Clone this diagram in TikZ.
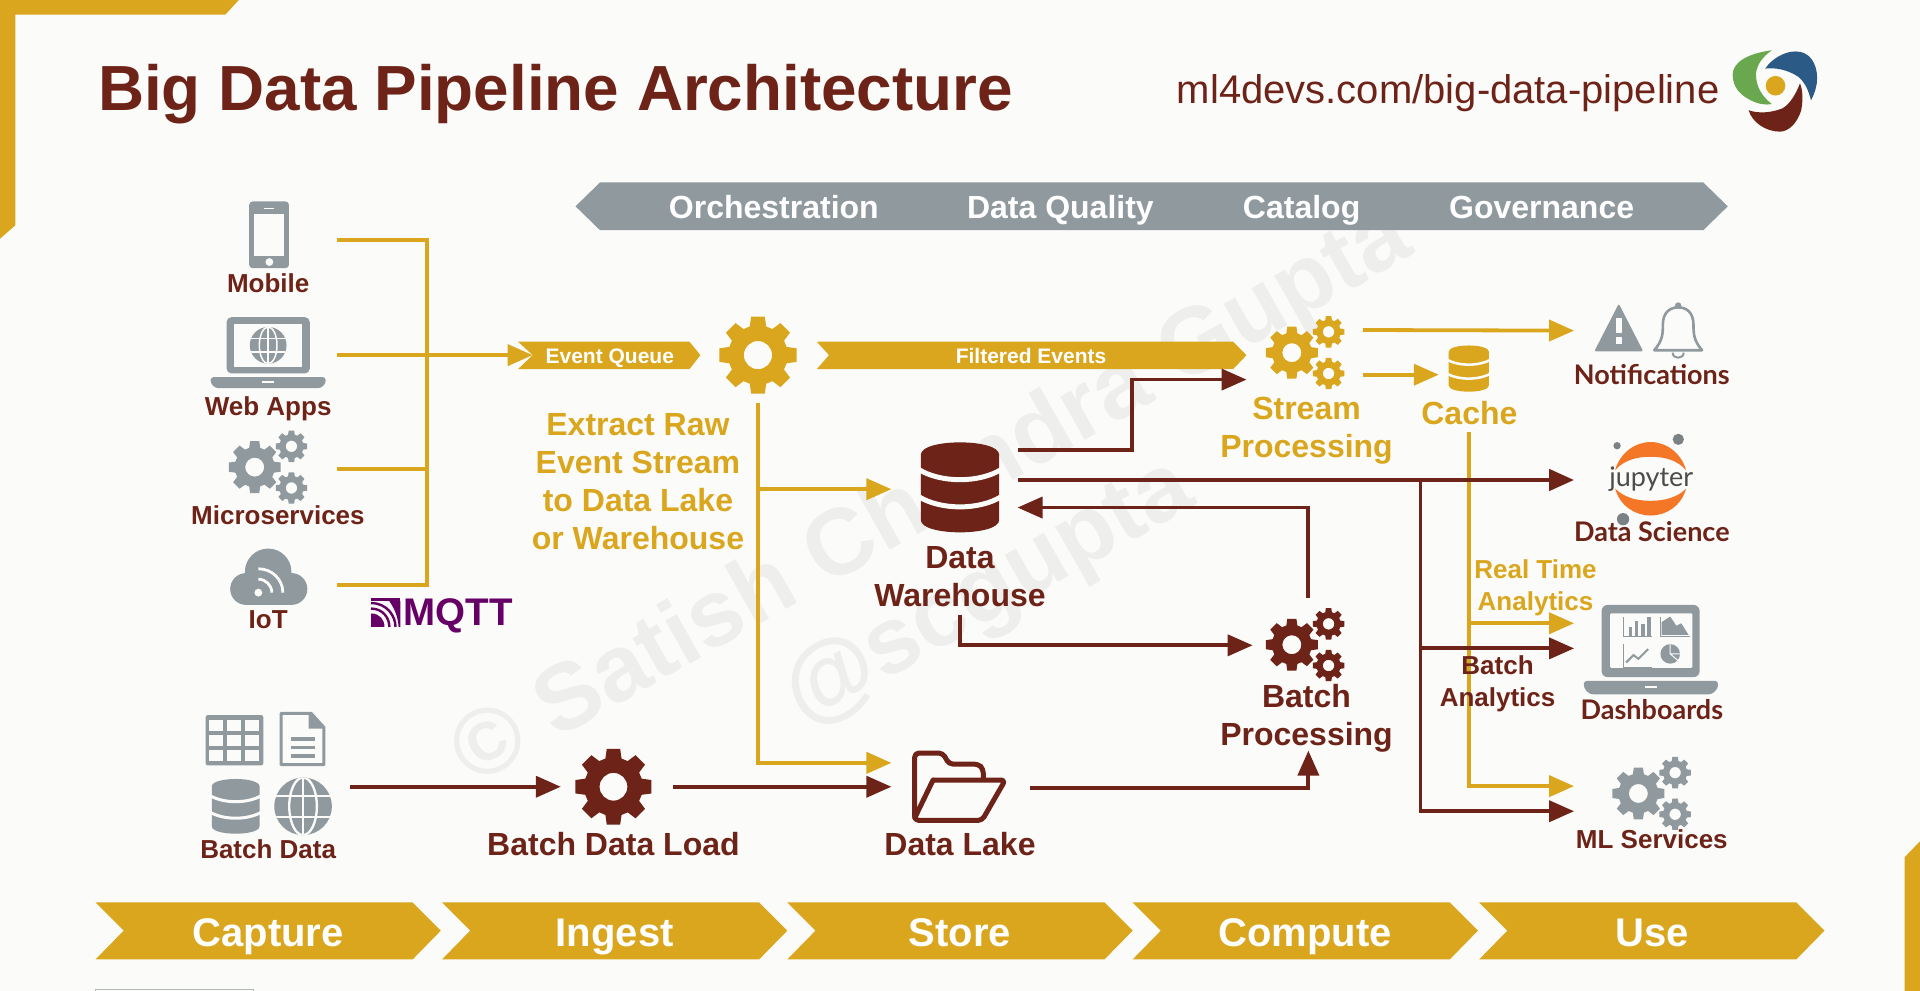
\documentclass[tikz,border=0pt]{standalone}
\usepackage{fontspec}
\setmainfont{Liberation Sans}
\newfontfamily\latof{Lato}
\usetikzlibrary{arrows.meta}
\definecolor{goldc}{HTML}{D9A61E}
\definecolor{maroonc}{HTML}{6E2318}
\definecolor{slatec}{HTML}{8F999E}
\definecolor{paperc}{HTML}{FBFBF9}
\definecolor{markc}{HTML}{EEEEEC}
\definecolor{mqttc}{HTML}{660066}
\definecolor{jupc}{HTML}{F37726}
\definecolor{lg}{HTML}{6AA84F}
\definecolor{lb}{HTML}{2A5A85}
\newcommand\gearicon[4]{%
 \fill[#4,even odd rule] ({#1+#3*.76*cos(-16)},{#2+#3*.76*sin(-16)})
  foreach \a in {0,45,...,315} {
   -- ({#1+#3*.76*cos(\a-16)},{#2+#3*.76*sin(\a-16)})
   -- ({#1+#3*cos(\a-10)},{#2+#3*sin(\a-10)})
   -- ({#1+#3*cos(\a+10)},{#2+#3*sin(\a+10)})
   -- ({#1+#3*.76*cos(\a+16)},{#2+#3*.76*sin(\a+16)})
  } -- cycle ({#1},{#2}) circle[radius={#3*.36}];}
\newcommand\geartrio[3]{%
 \gearicon{#1}{#2}{21.5}{#3}
 \gearicon{#1+30}{#2-17}{13}{#3}
 \gearicon{#1+30}{#2+17}{13}{#3}}
\newcommand\cylicon[5]{% cx top bottom rx colour
 \pgfmathsetmacro\cyh{#3-#2}
 \pgfmathsetmacro\cyr{\cyh*.14}
 \fill[#5] ({#1-#4},{#2+\cyr}) .. controls ({#1-#4},{#2-\cyr*.3}) and ({#1+#4},{#2-\cyr*.3}) .. ({#1+#4},{#2+\cyr})
   -- ({#1+#4},{#3-\cyr}) .. controls ({#1+#4},{#3+\cyr*.3}) and ({#1-#4},{#3+\cyr*.3}) .. ({#1-#4},{#3-\cyr}) -- cycle;
 \foreach \f in {.30,.60}{
  \draw[paperc,line width={\cyh*.055*1.22pt}] ({#1-#4-2},{#2+\cyh*\f}) .. controls ({#1-#4*.5},{#2+\cyh*\f+\cyr*1.1}) and ({#1+#4*.5},{#2+\cyh*\f+\cyr*1.1}) .. ({#1+#4+2},{#2+\cyh*\f});}}
\newcommand\globeicon[4]{% cx cy r colour
 \fill[#4] (#1,#2) circle[radius=#3];
 \begin{scope}
 \clip (#1,#2) circle[radius=#3];
 \draw[paperc,line width={#3*.1pt}] (#1,#2) ellipse[x radius={#3*.48},y radius=#3];
 \draw[paperc,line width={#3*.1pt}] (#1,{#2-#3}) -- (#1,{#2+#3});
 \draw[paperc,line width={#3*.1pt}] ({#1-#3},{#2-#3*.36}) -- ({#1+#3},{#2-#3*.36});
 \draw[paperc,line width={#3*.1pt}] ({#1-#3},{#2+#3*.36}) -- ({#1+#3},{#2+#3*.36});
 \end{scope}}
\tikzset{
 x=1.2245pt,y=-1.2245pt,
 goldline/.style={goldc,line width=3.8pt},
 maroonline/.style={maroonc,line width=3.8pt},
 goldarrow/.style={goldline,-{Triangle[length=25pt,width=21pt]}},
 maroonarrow/.style={maroonline,-{Triangle[length=25pt,width=21pt]}},
 lbl/.style={anchor=base,inner sep=0pt,outer sep=0pt,align=center,text=maroonc,font=\bfseries\fontsize{26}{26}\selectfont},
 biglbl/.style={lbl,font=\bfseries\fontsize{32}{38}\selectfont},
 goldlbl/.style={biglbl,text=goldc},
 softlbl/.style={lbl,font=\latof\bfseries\fontsize{27}{27}\selectfont},
 whitelbl/.style={anchor=base,inner sep=0pt,text=white,font=\bfseries\fontsize{32}{32}\selectfont},
 chevlbl/.style={whitelbl,font=\bfseries\fontsize{40}{40}\selectfont},
 ribbonlbl/.style={whitelbl,font=\bfseries\fontsize{21}{21}\selectfont},
 watermark/.style={text=markc,inner sep=0pt,font=\bfseries\fontsize{94}{94}\selectfont},
}
\begin{document}
\begin{tikzpicture}
\useasboundingbox (0,0) rectangle (1568,809.3);
\fill[paperc] (0,0) rectangle (1568,809.3);
% watermark
\node[watermark,rotate=29.5] (wm1) at (762,407) {© Satish Chandra Gupta};
\node[watermark,rotate=29.5] (wm2) at (808,486) {@scgupta};
% corners
\fill[goldc] (0,0) -- (195,0) -- (184,12) -- (12.5,12) -- (12.5,184) -- (0,195) -- cycle;
\fill[goldc] (1568,687) -- (1555.5,700) -- (1555.5,809.3) -- (1568,809.3) -- cycle;
\draw[slatec!70,line width=.8pt] (78,809.3) -- (78,807.6) -- (207,807.6) -- (207,809.3);
% title
\node[anchor=base west,inner sep=0pt,text=maroonc,font=\bfseries\fontsize{63.8}{64}\selectfont] (title) at (80,90) {Big Data Pipeline Architecture};
\node[anchor=base west,inner sep=0pt,text=maroonc,font=\fontsize{40}{40}\selectfont] (url) at (961,84.5) {ml4devs.com/big-data-pipeline};
% logo
\fill[lg] (1447,41) .. controls (1425,44) and (1415,52) .. (1415,61) .. controls (1415,72) and (1422,78) .. (1430,82) .. controls (1436,85) and (1442,86) .. (1447,85) .. controls (1438,78) and (1434,70) .. (1434,60) .. controls (1435,52) and (1440,46) .. (1447,41) -- cycle;
\fill[lb] (1441.6,56) .. controls (1447,48) and (1457,42) .. (1466.6,42) .. controls (1478,42) and (1484,52) .. (1484,64) .. controls (1484,70) and (1482,76) .. (1479,82) .. controls (1477,74) and (1474,67) .. (1468.5,62.6) .. controls (1460,57) and (1450,55) .. (1441.6,56) -- cycle;
\fill[maroonc] (1470,68) .. controls (1473,76) and (1472,84) .. (1471,90) .. controls (1468,100) and (1461,107.5) .. (1453.6,107.5) .. controls (1442,107.5) and (1431,100) .. (1428,90) .. controls (1436,93) and (1447,92) .. (1455.6,88.5) .. controls (1462,85) and (1467,76) .. (1470,68) -- cycle;
\fill[goldc] (1450,70) circle[radius=8];
% top banner
\fill[slatec] (470,168.5) -- (490,149) -- (1391,149) -- (1411,168.5) -- (1391,188) -- (490,188) -- cycle;
\node[whitelbl] (orch) at (632,178.6) {Orchestration};
\node[whitelbl] (dq) at (866,178.6) {Data Quality};
\node[whitelbl] (cat) at (1063,178.6) {Catalog};
\node[whitelbl] (gov) at (1259,178.6) {Governance};
% chevrons
\foreach \nm/\tx/\sx/\lx in {c1/Capture/78/219,c2/Ingest/361/502,c3/Store/643/784,c4/Compute/925/1066,c5/Use/1208/1349}{
 \fill[goldc] (\sx,737) -- ({\sx+259},737) -- ({\sx+282},760) -- ({\sx+259},783.5) -- (\sx,783.5) -- ({\sx+23},760) -- cycle;
 \node[chevlbl] (\nm) at (\lx,772.7) {\tx};
}
% ribbons
\fill[goldc] (423,279) -- (563,279) -- (572,290) -- (563,301.5) -- (423,301.5) -- (435,290) -- cycle;
\node[ribbonlbl] (eq) at (498,296.6) {Event Queue};
\fill[goldc] (667,279) -- (1007,279) -- (1018,290) -- (1007,301.5) -- (667,301.5) -- (677,290) -- cycle;
\node[ribbonlbl] (fe) at (842,296.6) {Filtered Events};
% anchors
\coordinate (mobO) at (275,196);
\coordinate (webO) at (275,290);
\coordinate (micO) at (275,383);
\coordinate (iotO) at (275,478);
\coordinate (bus) at (349,290);
\coordinate (eqIn) at (435,290);
\coordinate (gearOut) at (619,329);
\coordinate (dwInG) at (728,399.5);
\coordinate (dlInG) at (728,623);
\coordinate (dwOutA) at (831,367.5);
\coordinate (spIn) at (1018,310);
\coordinate (riser) at (924.5,340);
\coordinate (dwOutB) at (831,392);
\coordinate (jupIn) at (1285.5,392);
\coordinate (dwInB) at (831,414.5);
\coordinate (bpOutUp) at (1068,488);
\coordinate (dwOutC) at (784,502);
\coordinate (bpIn) at (1023,527);
\coordinate (bdOut) at (286,642.5);
\coordinate (bdlIn) at (458,642.5);
\coordinate (bdlOut) at (549.5,642.5);
\coordinate (dlInB) at (728,642.5);
\coordinate (dlOut) at (841,643.5);
\coordinate (bpInB) at (1068.5,613);
\coordinate (spOutA) at (1113,269.5);
\coordinate (notIn) at (1285.5,270);
\coordinate (spOutB) at (1113,306);
\coordinate (caIn) at (1175,306);
\coordinate (caOut) at (1199.5,353);
\coordinate (dbIn1) at (1285.5,509);
\coordinate (mlIn1) at (1285.5,642);
\coordinate (vtB) at (1160,392);
\coordinate (dbIn2) at (1285.5,529.5);
\coordinate (mlIn2) at (1285.5,662.5);
% gold connectors
\draw[goldline] (mobO) -| (bus |- iotO) -- (iotO);
\draw[goldline] (micO) -- (bus |- micO);
\draw[goldarrow] (webO) -- (eqIn);
\draw[goldarrow] (gearOut |- dwInG) -- (dwInG);
\draw[goldarrow] (gearOut) |- (dlInG);
\draw[goldarrow] (spOutA) -- (notIn);
\draw[goldarrow] (spOutB) -- (caIn);
\draw[goldarrow] (caOut) |- (mlIn1);
\draw[goldarrow] (caOut |- dbIn1) -- (dbIn1);
% maroon connectors
\draw[maroonarrow] (dwOutA) -| (riser) |- (spIn);
\draw[maroonarrow,line width=4.6pt] (dwOutB) -- (jupIn);
\draw[maroonarrow] (vtB) |- (mlIn2);
\draw[maroonarrow] (vtB |- dbIn2) -- (dbIn2);
\draw[maroonarrow] (bpOutUp) |- (dwInB);
\draw[maroonarrow] (dwOutC) |- (bpIn);
\draw[maroonarrow] (bdOut) -- (bdlIn);
\draw[maroonarrow] (bdlOut) -- (dlInB);
\draw[maroonarrow] (dlOut) -| (bpInB);
% gears
\gearicon{619}{290}{32}{goldc}
\gearicon{501}{642.5}{31.5}{maroonc}
\geartrio{208}{381.5}{slatec}
\geartrio{1055}{288}{goldc}
\geartrio{1055}{526.5}{maroonc}
\geartrio{1338}{648}{slatec}
% cylinders
\cylicon{784}{361}{435}{32}{maroonc}
\cylicon{1199.5}{282}{320}{16.5}{goldc}
\cylicon{192.5}{636}{681}{19.5}{slatec}
% globe batch
\globeicon{247.5}{658.5}{23.5}{slatec}
% table
\fill[slatec,rounded corners=2pt] (168,584) rectangle (215,625);
\foreach \ci in {0,1,2}\foreach \cj in {0,1,2}{
 \fill[paperc] ({171+\ci*14.7},{588+\cj*12.3}) rectangle ({182+\ci*14.7},{597+\cj*12.3});}
% doc
\draw[slatec,line width=3pt,line join=round] (229.5,582.5) -- (254,582.5) -- (264.5,594) -- (264.5,624.5) -- (229.5,624.5) -- cycle;
\fill[slatec] (252,582) -- (265,595) -- (252,595) -- cycle;
\foreach \dy in {602,609,616}{\fill[slatec] (238,\dy) rectangle (257,{\dy+3});}
% mobile
\fill[slatec,rounded corners=3.5pt] (203.5,164.5) rectangle (236,219);
\fill[paperc] (207.5,175) rectangle (232,209);
\fill[paperc] (220,214) circle[radius=3.2];
\fill[paperc] (216,169.5) rectangle (224,171);
% web laptop
\fill[slatec,rounded corners=5pt] (185,259) rectangle (253,305);
\fill[paperc] (191,265) rectangle (247,299.5);
\fill[slatec,rounded corners=3pt] (172,308) -- (266,308) -- (266,313) -- (262,317) -- (176,317) -- (172,313) -- cycle;
\fill[paperc] (214,311.5) rectangle (224,313);
\globeicon{219}{282}{15}{slatec}
% cloud
\fill[slatec] (201,481) circle[radius=13] (219,467) circle[radius=19] (238,481) circle[radius=13];
\fill[slatec] (201,476) rectangle (238,494);
\fill[paperc] (211,484) circle[radius=3.2];
\draw[paperc,line width=2.8pt] (211,473) .. controls (217,473) and (222,478) .. (222,484);
\draw[paperc,line width=2.8pt] (211,464.5) .. controls (222,464.5) and (231,473) .. (231,484);
% mqtt
\fill[mqttc] (303,488) -- (327,488) -- (327,491) -- (303,491) -- cycle;
\fill[mqttc] (303,512) -- (303,501) .. controls (310,501) and (314,506) .. (314,512) -- cycle;
\draw[mqttc,line width=2.4pt] (303,497) .. controls (313,497) and (318,505) .. (318,512);
\draw[mqttc,line width=2.4pt] (303,492.5) .. controls (316,492.5) and (323,503) .. (323,512);
\fill[mqttc] (318,491) -- (327,491) -- (327,512) -- (325.5,512) .. controls (325,503) and (322,497) .. (318,491) -- cycle;
\node[anchor=base west,inner sep=0pt,text=mqttc,font=\bfseries\fontsize{38.5}{38.5}\selectfont] (mqtt) at (329.5,511) {MQTT};
% folder
\draw[maroonc,line width=5pt,line join=round,rounded corners=4pt] (762,637) -- (821,637) -- (802,670) -- (747,670) -- (747,615) -- (770,615) -- (775,624) -- (799,624) -- (803,628) -- (803,636);
\draw[maroonc,line width=5pt,line cap=round] (762,637) -- (747,668);
% triangle warn
\fill[slatec,rounded corners=2pt] (1322,248) -- (1342,287) -- (1302,287) -- cycle;
\fill[paperc] (1319.7,260) rectangle (1324.3,272);
\fill[paperc] (1319.7,275.5) rectangle (1324.3,281);
% bell
\draw[slatec,line width=2.6pt,line join=round,fill=paperc] (1351,286) .. controls (1358,278) and (1358,272) .. (1358,265) .. controls (1358,255) and (1364,251) .. (1370.5,251) .. controls (1377,251) and (1383,255) .. (1383,265) .. controls (1383,272) and (1383,278) .. (1390,286) -- cycle;
\fill[slatec] (1370.5,249.5) circle[radius=2.6];
\draw[slatec,line width=2pt] (1366,288) .. controls (1366,293.5) and (1375,293.5) .. (1375,288);
% jupyter
\fill[jupc] (1319,384) .. controls (1323,370) and (1335,361) .. (1348,361) .. controls (1361,361) and (1373,370) .. (1377,384) .. controls (1370,376) and (1360,373) .. (1348,373) .. controls (1336,373) and (1326,376) .. (1319,384) -- cycle;
\fill[jupc] (1319,399) .. controls (1323,413) and (1335,421) .. (1348,421) .. controls (1361,421) and (1373,413) .. (1377,399) .. controls (1370,406) and (1360,409) .. (1348,409) .. controls (1336,409) and (1326,406) .. (1319,399) -- cycle;
\fill[slatec!85!black] (1370.6,358.8) circle[radius=4.6];
\fill[slatec!85!black] (1320.6,364) circle[radius=3];
\fill[slatec!85!black] (1325.5,424) circle[radius=5];
\node[anchor=base,inner sep=0pt,text=black!70,font=\latof\fontsize{27}{27}\selectfont] (jup) at (1348.5,397) {jupyter};
% dashboard laptop
\fill[slatec,rounded corners=6pt] (1308,494) rectangle (1388,553);
\fill[paperc,rounded corners=1pt] (1315,501) rectangle (1382,545.5);
\fill[slatec,rounded corners=3pt] (1293.5,556) -- (1403,556) -- (1403,562) -- (1398,567) -- (1298.5,567) -- (1293.5,562) -- cycle;
\fill[paperc] (1343,560) rectangle (1353,561.5);
\draw[slatec,line width=1pt] (1326,504) |- (1349,519.5);
\foreach \bx/\bh in {1330/7,1335/12,1340/9,1345/15}{\fill[slatec] (\bx,519) rectangle ({\bx+3},{519-\bh});}
\draw[slatec,line width=1pt] (1356,504) |- (1380,519.5);
\fill[slatec] (1357,518.5) -- (1357,508) -- (1364,503.5) -- (1369,511) -- (1373,509) -- (1379,518.5) -- cycle;
\draw[slatec,line width=1pt] (1326,526) |- (1349,545);
\draw[slatec,line width=2pt] (1328,541) -- (1334,535) -- (1338,538) -- (1346,530);
\fill[slatec] (1364,534) circle[radius=8];
\draw[paperc,line width=1pt] (1364,534) -- (1364,525) (1364,534) -- (1373,534) (1364,534) -- (1371,540);
% labels
\node[lbl] (lmob) at (219,239) {Mobile};
\node[lbl] (lweb) at (219,339) {Web Apps};
\node[lbl] (lmic) at (227,428) {Microservices};
\node[lbl] (liot) at (219,513) {IoT};
\node[lbl] (lbat) at (219,701) {Batch Data};
\node[biglbl] (lbdl) at (501,699) {Batch Data Load};
\node[biglbl] (ldl) at (784,699) {Data Lake};
\node[biglbl] (ldw) at (784,495.5) {Data\\Warehouse};
\node[biglbl] (lbp) at (1067,609) {Batch\\Processing};
\node[goldlbl] (lsp) at (1067,374) {Stream\\Processing};
\node[goldlbl] (lca) at (1200,347) {Cache};
\node[goldlbl] (lex) at (521,449) {Extract Raw\\Event Stream\\to Data Lake\\or Warehouse};
\node[softlbl] (lnot) at (1349,314) {Notifications};
\node[softlbl] (lds) at (1349,442) {Data Science};
\node[lbl,text=goldc,font=\bfseries\fontsize{26}{32}\selectfont] (lrt) at (1254,498.5) {Real Time\\Analytics};
\node[lbl,font=\bfseries\fontsize{26}{32}\selectfont] (lba) at (1223,577) {Batch\\Analytics};
\node[softlbl] (ldb) at (1349,587.5) {Dashboards};
\node[lbl] (lml) at (1349,693) {ML Services};
\end{tikzpicture}
\end{document}
